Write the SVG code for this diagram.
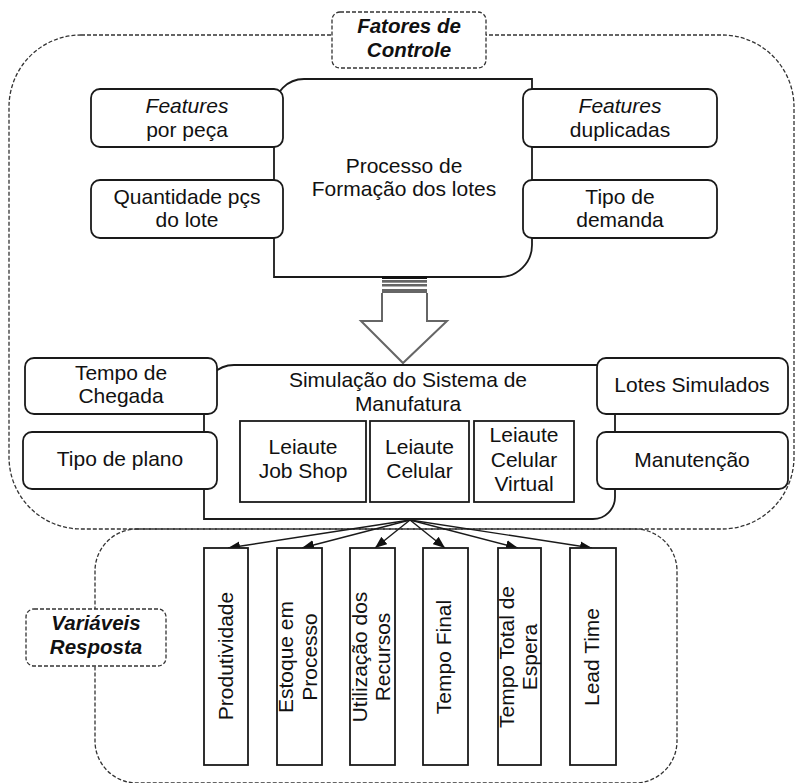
<svg xmlns="http://www.w3.org/2000/svg" width="797" height="783" viewBox="0 0 797 783">
  <style>
    text { font-family: "Liberation Sans", Arial, sans-serif; font-size: 21px; fill: #111; text-anchor: middle; }
    .it { font-style: italic; }
    .lbl { font-weight: bold; font-style: italic; font-size: 20.5px; }
    .box { fill: #fff; stroke: #1a1a1a; stroke-width: 1.8; }
    .sq { fill: #fff; stroke: #1a1a1a; stroke-width: 1.8; }
    .dash { fill: none; stroke: #333; stroke-width: 1.3; stroke-dasharray: 4 2; }
    .dashbox { fill: #fff; stroke: #333; stroke-width: 1.3; stroke-dasharray: 4 2; }
    .link { fill: none; stroke: #1a1a1a; stroke-width: 1.4; marker-end: url(#ah); }
  </style>
  <defs>
    <marker id="ah" viewBox="0 0 10 8" refX="10" refY="4" markerWidth="12" markerHeight="10" orient="auto" markerUnits="userSpaceOnUse">
      <path d="M0,0 L10,4 L0,8 Z" fill="#111"/>
    </marker>
  </defs>

  <!-- grouping outlines -->
  <g id="regions">
    <rect class="dash" x="9" y="35" width="785" height="494" rx="72" ry="72"/>
    <rect class="dash" x="95" y="529" width="582" height="254" rx="42" ry="42"/>
  </g>

  <!-- fan of result arrows -->
  <g id="connectors">
    <line class="link" x1="410" y1="520" x2="228" y2="548"/>
    <line class="link" x1="410" y1="520" x2="302" y2="548"/>
    <line class="link" x1="410" y1="520" x2="375" y2="548"/>
    <line class="link" x1="410" y1="520" x2="445" y2="548"/>
    <line class="link" x1="410" y1="520" x2="518" y2="548"/>
    <line class="link" x1="410" y1="520" x2="592" y2="548"/>
  </g>

  <g id="label-fatores">
    <rect class="dashbox" x="332" y="12" width="154" height="56" rx="8"/>
    <text class="lbl" x="409" y="33">Fatores de</text>
    <text class="lbl" x="409" y="57">Controle</text>
  </g>

  <g id="processo">
    <path class="box" d="M274,109 A30,30 0 0 1 304,79 L532,79 L532,245 A32,32 0 0 1 500,277 L274,277 Z"/>
    <text x="404" y="173">Processo de</text>
    <text x="404" y="196">Formação dos lotes</text>
  </g>

  <g id="features-peca">
    <rect class="box" x="91" y="89" width="192" height="58" rx="9"/>
    <text class="it" x="187" y="113">Features</text>
    <text x="187" y="137">por peça</text>
  </g>
  <g id="quantidade">
    <rect class="box" x="91" y="180" width="192" height="58" rx="9"/>
    <text x="187" y="204">Quantidade pçs</text>
    <text x="187" y="227">do lote</text>
  </g>
  <g id="features-dup">
    <rect class="box" x="523" y="89" width="194" height="58" rx="9"/>
    <text class="it" x="620" y="113">Features</text>
    <text x="620" y="137">duplicadas</text>
  </g>
  <g id="tipo-demanda">
    <rect class="box" x="523" y="180" width="194" height="58" rx="9"/>
    <text x="620" y="204">Tipo de</text>
    <text x="620" y="227">demanda</text>
  </g>

  <!-- striped block arrow -->
  <g id="seta">
    <rect x="382" y="276" width="45" height="3" fill="#111"/>
    <rect x="382" y="280" width="45" height="2.7" fill="#666"/>
    <rect x="382" y="284" width="45" height="2.5" fill="#666"/>
    <rect x="382" y="289" width="45" height="4" fill="#666"/>
    <path d="M382,293 L382,321 L361,321 L403,363 L447,321 L427,321 L427,293" fill="#fff" stroke="#666" stroke-width="2"/>
  </g>

  <g id="simulacao">
    <path class="box" d="M204,395 A30,30 0 0 1 234,365 L615,365 L615,497 A22,22 0 0 1 593,519 L204,519 Z"/>
    <text x="408" y="387">Simulação do Sistema de</text>
    <text x="408" y="411">Manufatura</text>
  </g>
  <g id="job-shop">
    <rect class="sq" x="240" y="421" width="126" height="81"/>
    <text x="303" y="454">Leiaute</text>
    <text x="303" y="478">Job Shop</text>
  </g>
  <g id="celular">
    <rect class="sq" x="370" y="421" width="99" height="81"/>
    <text x="419.5" y="454">Leiaute</text>
    <text x="419.5" y="478">Celular</text>
  </g>
  <g id="celular-virtual">
    <rect class="sq" x="474" y="421" width="100" height="81"/>
    <text x="524" y="442">Leiaute</text>
    <text x="524" y="467">Celular</text>
    <text x="524" y="491">Virtual</text>
  </g>

  <g id="tempo-chegada">
    <rect class="box" x="25" y="358" width="192" height="56" rx="9"/>
    <text x="121" y="380">Tempo de</text>
    <text x="121" y="403">Chegada</text>
  </g>
  <g id="tipo-plano">
    <rect class="box" x="23" y="432" width="194" height="57" rx="9"/>
    <text x="120" y="466">Tipo de plano</text>
  </g>
  <g id="lotes-simulados">
    <rect class="box" x="597" y="358" width="191" height="56" rx="9"/>
    <text x="692" y="392">Lotes Simulados</text>
  </g>
  <g id="manutencao">
    <rect class="box" x="597" y="432" width="191" height="57" rx="9"/>
    <text x="692" y="467">Manutenção</text>
  </g>

  <g id="label-variaveis">
    <rect class="dashbox" x="26" y="609" width="140" height="57" rx="8"/>
    <text class="lbl" x="96" y="630">Variáveis</text>
    <text class="lbl" x="96" y="654">Resposta</text>
  </g>

  <!-- response variables, vertical text -->
  <g id="produtividade">
    <rect class="sq" x="204" y="548" width="44" height="217"/>
    <text transform="translate(233,656) rotate(-90)">Produtividade</text>
  </g>
  <g id="estoque">
    <rect class="sq" x="277" y="548" width="45" height="217"/>
    <text transform="translate(293,657) rotate(-90)">Estoque em</text>
    <text transform="translate(317,657) rotate(-90)">Processo</text>
  </g>
  <g id="utilizacao">
    <rect class="sq" x="350" y="548" width="45" height="217"/>
    <text transform="translate(367,657) rotate(-90)">Utilização dos</text>
    <text transform="translate(390,657) rotate(-90)">Recursos</text>
  </g>
  <g id="tempo-final">
    <rect class="sq" x="423" y="548" width="45" height="217"/>
    <text transform="translate(451,657) rotate(-90)">Tempo Final</text>
  </g>
  <g id="tempo-espera">
    <rect class="sq" x="498" y="548" width="43" height="217"/>
    <text transform="translate(514,657) rotate(-90)">Tempo Total de</text>
    <text transform="translate(537,657) rotate(-90)">Espera</text>
  </g>
  <g id="lead-time">
    <rect class="sq" x="570" y="548" width="46" height="217"/>
    <text transform="translate(599,657) rotate(-90)">Lead Time</text>
  </g>
</svg>
